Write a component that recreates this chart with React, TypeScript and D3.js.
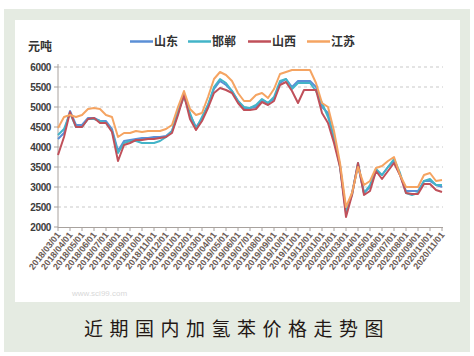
import React from "react";
import * as d3 from "d3";

const W = 474;
const H = 356;

const seriesNames = ["山东", "邯郸", "山西", "江苏"];
const seriesColors = ["#5b8fd6", "#43b4c8", "#c0505a", "#f5a462"];

const shandong = [4200,4350,4900,4550,4550,4725,4725,4650,4650,4450,3900,4150,4175,4200,4225,4225,4250,4250,4275,4400,4850,5325,4800,4500,4700,5050,5450,5650,5550,5400,5150,4975,4975,5000,5175,5100,5200,5600,5700,5500,5650,5650,5650,5500,5000,4850,4200,3550,2350,2850,3550,2850,3000,3400,3300,3500,3650,3300,2900,2900,2900,3150,3150,3050,3000];
const handan = [4300,4450,4850,4500,4500,4700,4700,4650,4600,4400,3850,4100,4150,4150,4100,4100,4100,4150,4250,4400,4900,5250,4850,4450,4750,5050,5500,5700,5600,5400,5150,5000,4975,5050,5200,5100,5250,5650,5700,5450,5600,5600,5600,5400,5100,4750,4250,3500,2400,2800,3600,2850,3050,3450,3300,3500,3700,3350,2850,2800,2850,3150,3200,3050,3050];
const shanxi = [3800,4250,4875,4500,4500,4700,4725,4600,4600,4375,3650,4050,4100,4175,4175,4200,4200,4225,4250,4350,4800,5300,4700,4425,4650,4975,5350,5475,5425,5350,5100,4925,4925,4950,5125,5050,5150,5550,5625,5400,5100,5425,5425,5425,4850,4600,4100,3500,2250,2800,3600,2800,2900,3400,3200,3400,3600,3300,2850,2825,2825,3075,3075,2925,2875];
const jiangsu = [4475,4750,4800,4750,4800,4950,4975,4950,4800,4750,4250,4350,4350,4400,4375,4400,4400,4400,4450,4550,5000,5400,4950,4800,4850,5250,5700,5875,5800,5650,5350,5150,5150,5300,5350,5225,5450,5825,5875,5925,5925,5925,5925,5600,5100,5000,4400,3600,2500,2850,3500,3050,3150,3475,3525,3650,3750,3300,3000,3000,3000,3300,3350,3150,3175];

const xLabels = [
  "2018/03/01","2018/04/01","2018/05/01","2018/06/01","2018/07/01","2018/08/01","2018/09/01","2018/10/01",
  "2018/11/01","2018/12/01","2019/01/01","2019/02/01","2019/03/01","2019/04/01","2019/05/01","2019/06/01",
  "2019/07/01","2019/08/01","2019/09/01","2019/10/01","2019/11/01","2019/12/01","2020/01/01","2020/02/01",
  "2020/03/01","2020/04/01","2020/05/01","2020/06/01","2020/07/01","2020/08/01","2020/09/01","2020/10/01",
  "2020/11/01"
];

const yTicks = [2000, 2500, 3000, 3500, 4000, 4500, 5000, 5500, 6000];

export default function App() {
  const allSeries = [shandong, handan, shanxi, jiangsu];
  const n = jiangsu.length;
  const x = d3.scaleLinear().domain([0, n - 1]).range([58, 442]);
  const xt = d3.scaleLinear().domain([0, xLabels.length - 1]).range([58, 442]);
  const y = d3.scaleLinear().domain([2000, 6000]).range([227, 67]);
  const line = d3.line<number>().x((_, i) => x(i)).y((d) => y(d));
  const legendX = [130, 188, 248, 307];

  return (
    <svg width={W} height={H} style={{ position: "absolute", left: 0, top: 0 }} fontFamily="'Liberation Sans', Arial, sans-serif">
      <rect x={0} y={0} width={W} height={H} fill="#ffffff" />
      <rect x={4} y={9} width={466} height={343} fill="#e5ebe2" />
      <rect x={15} y={20} width={445} height={282} fill="#ffffff" />

      {/* gridlines */}
      {yTicks.filter((t) => t > 2000).map((t) => (
        <line key={t} x1={58} x2={443} y1={y(t)} y2={y(t)} stroke="#c9c9c9" strokeWidth={1} strokeDasharray="3,3" />
      ))}
      {/* y axis */}
      <line x1={58} x2={58} y1={64} y2={228} stroke="#a8a29e" strokeWidth={1} />
      {yTicks.map((t) => (
        <g key={"yt" + t}>
          <line x1={54} x2={58} y1={y(t)} y2={y(t)} stroke="#a8a29e" />
          <text x={51} y={y(t) + 3.5} fontSize={10} textAnchor="end" fill="#3c3c3c" letterSpacing={-0.4} fontWeight="bold">{t}</text>
        </g>
      ))}
      {/* x axis */}
      <line x1={58} x2={443} y1={227.5} y2={227.5} stroke="#a8a29e" strokeWidth={1} />
      {xLabels.map((l, i) => (
        <g key={"xt" + i}>
          <line x1={xt(i)} x2={xt(i)} y1={227.5} y2={231} stroke="#a8a29e" />
          <text transform={`translate(${xt(i) + 3},${235}) rotate(-52)`} fontSize={9} textAnchor="end" fill="#6a5b55" fontWeight="bold">{l}</text>
        </g>
      ))}

      {/* series */}
      {allSeries.map((s, k) => (
        <path key={k} d={line(s) || ""} fill="none" stroke={seriesColors[k]} strokeWidth={2} strokeLinejoin="round" />
      ))}

      {/* units */}
      <text x={28} y={51} fontSize={12} fill="#333" fontFamily="'Noto Sans CJK SC', sans-serif" fontWeight="bold">元吨</text>

      {/* legend */}
      {seriesNames.map((nm, k) => (
        <g key={nm}>
          <line x1={legendX[k]} x2={legendX[k] + 23} y1={41.5} y2={41.5} stroke={seriesColors[k]} strokeWidth={2.5} />
          <text x={legendX[k] + 24} y={46} fontSize={12} fill="#333" fontFamily="'Noto Sans CJK SC', sans-serif" fontWeight="bold">{nm}</text>
        </g>
      ))}

      {/* watermark */}
      <text x={72} y={296} fontSize={8} fill="#d8d8d8">www.sci99.com</text>

      {/* title */}
      <text x={237} y={336} fontSize={19} textAnchor="middle" fill="#231815" letterSpacing={6.5} fontFamily="'Noto Sans CJK SC', sans-serif">近期国内加氢苯价格走势图</text>
    </svg>
  );
}
